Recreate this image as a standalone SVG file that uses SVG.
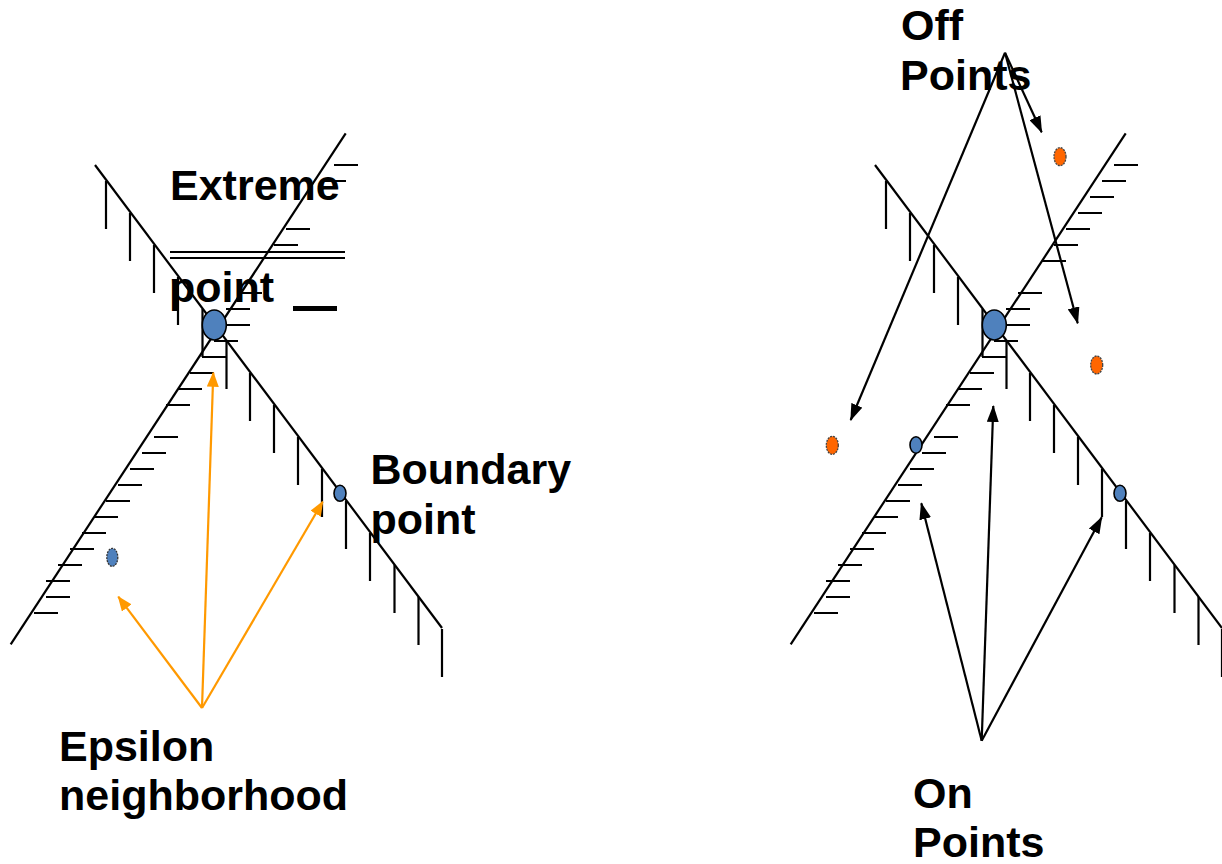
<svg xmlns="http://www.w3.org/2000/svg" xmlns:xlink="http://www.w3.org/1999/xlink" width="1222" height="864" viewBox="0 0 1222 864">
<style>
  .ln { stroke: #000; stroke-width: 2.2; fill: none; }
  .tk { stroke: #000; stroke-width: 2.2; fill: none; }
  .lbl { font-family: "Liberation Sans", Arial, sans-serif; font-weight: bold; font-size: 43px; fill: #000; }
  .on { fill: #4F81BD; stroke: #000; stroke-width: 1.6; }
  .fuzzy { fill: #4F81BD; stroke: #333; stroke-width: 1.3; stroke-dasharray: 2 1; }
  .off { fill: #FF6600; stroke: #444; stroke-width: 1.3; stroke-dasharray: 2 1; }
  .oarr { stroke: #FF9900; stroke-width: 2.2; fill: none; marker-end: url(#ah-orange); }
  .barr { stroke: #000; stroke-width: 2.2; fill: none; marker-end: url(#ah-black); }
</style>
<defs>
  <marker id="ah-orange" markerUnits="userSpaceOnUse" markerWidth="15" markerHeight="12" refX="14" refY="6" orient="auto">
    <path d="M0,0 L15,6 L0,12 z" fill="#FF9900"/>
  </marker>
  <marker id="ah-black" markerUnits="userSpaceOnUse" markerWidth="17" markerHeight="12" refX="16" refY="6" orient="auto">
    <path d="M0,0 L17,6 L0,12 z" fill="#000"/>
  </marker>
  <g id="xshape">
    <line class="ln" x1="95" y1="165" x2="442" y2="628"/>
    <line class="ln" x1="345.7" y1="133.3" x2="10.7" y2="644.3"/>
    <path class="tk" d="M106 181v48 M130 213v48 M154 245v48 M178 277v48 M202.5 309v48 M226.5 341v48 M250 373v48 M274 405v48 M298 437v48 M322 469v48 M346 501v48 M370 533v48 M394.5 565v48 M418.5 597v48 M442 629v48"/>
    <path class="tk" d="M334 165h24 M322 181h24 M286 229h24 M274 245h24 M238 293h24 M226 309h24 M226 325h24 M214 341h24 M202 357h24 M190 373h24 M178 389h24 M166 405h24 M154 437h24 M142 453h24 M130 469h24 M118 485h24 M106 501h24 M94 517h24 M82 533h24 M70 549h24 M58 565h24 M46 581h24 M46 597h24 M34 613h24"/>
  </g>
</defs>

<g id="left-figure">
  <use xlink:href="#xshape" href="#xshape"/>
  <line class="tk" x1="170" y1="252" x2="345" y2="252"/>
  <line class="tk" x1="170" y1="258" x2="345" y2="258"/>
  <line x1="293" y1="308.5" x2="337" y2="308.5" stroke="#000" stroke-width="5"/>
</g>

<g id="right-figure">
  <use xlink:href="#xshape" href="#xshape" transform="translate(780,0)"/>
  <path class="tk" d="M1090 197h24 M1078 213h24 M1042 261h24"/>
</g>

<g id="connectors">
  <line class="oarr" x1="202" y1="708" x2="118.3" y2="596.7"/>
  <line class="oarr" x1="202" y1="708" x2="213.3" y2="372.7"/>
  <line class="oarr" x1="202" y1="708" x2="322.7" y2="501.7"/>
  <line class="barr" x1="1005" y1="52.7" x2="850.7" y2="420"/>
  <line class="barr" x1="1005" y1="52.7" x2="1041.7" y2="132.3"/>
  <line class="barr" x1="1005" y1="52.7" x2="1077.7" y2="323.3"/>
  <line class="barr" x1="981.7" y1="740.7" x2="921.3" y2="503.3"/>
  <line class="barr" x1="981.7" y1="740.7" x2="993.3" y2="406"/>
  <line class="barr" x1="981.7" y1="740.7" x2="1101.7" y2="517.3"/>
</g>

<g id="extreme-point"><ellipse class="on" cx="214.3" cy="325" rx="12" ry="15"/></g>
<g id="boundary-point"><ellipse class="on" cx="340" cy="493.3" rx="6" ry="8"/></g>
<g id="epsilon-point"><ellipse class="fuzzy" cx="112.3" cy="557.3" rx="5.5" ry="9"/></g>
<g id="right-extreme-point"><ellipse class="on" cx="994.3" cy="325" rx="12" ry="15"/></g>
<g id="right-boundary-point"><ellipse class="on" cx="1120" cy="493.3" rx="6" ry="8"/></g>
<g id="on-point-left-edge"><ellipse class="on" cx="916" cy="445" rx="6" ry="8.3"/></g>
<g id="off-point-1"><ellipse class="off" cx="832.3" cy="445.3" rx="6" ry="9"/></g>
<g id="off-point-2"><ellipse class="off" cx="1060" cy="156.7" rx="6" ry="9"/></g>
<g id="off-point-3"><ellipse class="off" cx="1096.7" cy="365" rx="6" ry="9"/></g>

<g id="labels">
  <text class="lbl" x="170" y="200">Extreme</text>
  <text class="lbl" x="169" y="301.5">point</text>
  <text class="lbl" x="370.5" y="483.5">Boundary</text>
  <text class="lbl" x="370.5" y="533.5">point</text>
  <text class="lbl" x="59" y="760.5">Epsilon</text>
  <text class="lbl" x="59" y="810">neighborhood</text>
  <text class="lbl" x="901" y="39.5">Off</text>
  <text class="lbl" x="900" y="90">Points</text>
  <text class="lbl" x="913" y="808">On</text>
  <text class="lbl" x="913" y="857">Points</text>
</g>
</svg>
